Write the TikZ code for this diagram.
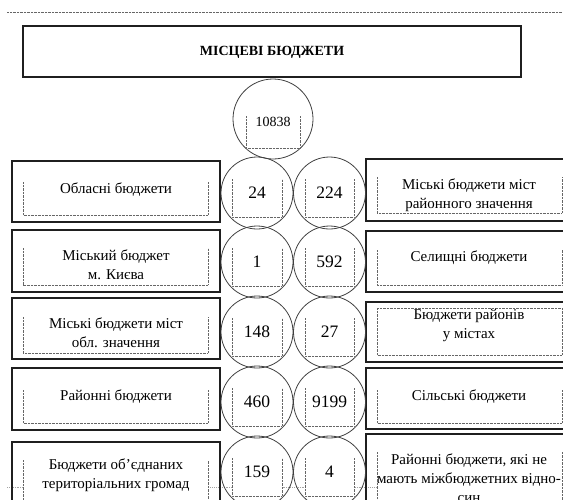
\documentclass[tikz,border=0pt]{standalone}
\usepackage{fontspec}
\setmainfont{Liberation Serif}
\usepackage{tikz}
\definecolor{ramka}{gray}{0.12}
\definecolor{kolo}{gray}{0.25}
\definecolor{punktyr}{gray}{0.40}
\tikzset{
  korobka/.style={draw=ramka, line width=1.1pt},
  krug/.style={circle, draw=kolo, line width=0.8pt, minimum size=72pt, inner sep=0pt},
  pole/.style={draw=punktyr, line width=0.7pt, dash pattern=on 0.7pt off 0.7pt, fill=white},
  napys/.style={align=center, inner sep=0pt, font=\fontsize{15}{19}\selectfont},
  chyslo/.style={inner sep=0pt, font=\fontsize{17.5}{20}\selectfont}
}

\begin{document}
\begin{tikzpicture}[x=1pt, y=-1pt]
        \useasboundingbox (0,0) rectangle (563,499);
        \clip (0,0) rectangle (563,499);
        \draw[punktyr, line width=0.6pt, dash pattern=on 0.7pt off 0.7pt] (7,12) -- (563,12);
        \draw[punktyr!60, line width=0.5pt, dash pattern=on 0.7pt off 1.2pt] (7,487) -- (563,487);
        % zagolovok
        \draw[korobka] (23,26) rectangle (521,77);
        \node[inner sep=0pt, font=\fontsize{14}{17}\selectfont\bfseries] (title) at (272,52) {МІСЦЕВІ БЮДЖЕТИ};
        \node[krug, minimum size=80pt] (vsogo) at (273,119) {};
        \draw[pole] (246,116) -- (246,148) -- (300,148) -- (300,116);
        \node[inner sep=0pt, font=\fontsize{14}{16}\selectfont] (n10838) at (273,122) {10838};
        % liva kolonka
        \draw[korobka] (12,161) rectangle (220,222);
        \draw[korobka] (12,230) rectangle (220,292);
        \draw[korobka] (12,298) rectangle (220,359);
        \draw[korobka] (12,368) rectangle (220,430);
        \draw[korobka] (12,442) rectangle (220,520);
        \draw[pole] (23,182) -- (23,215) -- (208,215) -- (208,182);
        \draw[pole] (23,248) -- (23,285) -- (208,285) -- (208,248);
        \draw[pole] (23,317) -- (23,353) -- (208,353) -- (208,317);
        \draw[pole] (23,390) -- (23,423) -- (208,423) -- (208,390);
        \draw[pole] (23,460) -- (23,520) -- (208,520) -- (208,460);
        \node[napys] (oblasni) at (116,190) {Обласні бюджети};
        \node[napys] (kyiv) at (116,265) {Міський бюджет\\м. Києва};
        \node[napys] (oblmista) at (116,333) {Міські бюджети міст\\обл. значення};
        \node[napys] (rajonni) at (116,397) {Районні бюджети};
        \node[napys] (otg) at (116,475) {Бюджети об’єднаних\\територіальних громад};
        % prava kolonka
        \draw[korobka] (366,159) rectangle (575,221);
        \draw[korobka] (366,231) rectangle (575,292);
        \draw[korobka] (366,302) rectangle (575,362);
        \draw[korobka] (366,368) rectangle (575,429);
        \draw[korobka] (366,434) rectangle (575,520);
        \draw[pole] (377,177) -- (377,213) -- (562,213) -- (562,177);
        \draw[pole] (377,250) -- (377,285) -- (562,285) -- (562,250);
        \draw[pole] (377,308) rectangle (562,355);
        \draw[pole] (377,390) -- (377,423) -- (562,423) -- (562,390);
        \draw[pole] (377,452) -- (377,520) -- (562,520) -- (562,452);
        \node[napys] (rajmista) at (469,195) {Міські бюджети міст\\районного значення};
        \node[napys] (selyshchni) at (469,258) {Селищні бюджети};
        \node[napys] (rajonyvmistah) at (469,325) {Бюджети районів\\у містах};
        \node[napys] (silski) at (469,397) {Сільські бюджети};
        \node[napys] (bezvidnosyn) at (469,478) {Районні бюджети, які не\\мають міжбюджетних відно-\\син};
        % kola z kilkistju
        \node[krug] (k24) at (257,193) {};
        \node[krug] (k224) at (329.5,193) {};
        \node[krug] (k1) at (257,262) {};
        \node[krug] (k592) at (329.5,262) {};
        \node[krug] (k148) at (257,332) {};
        \node[krug] (k27) at (329.5,332) {};
        \node[krug] (k460) at (257,402) {};
        \node[krug] (k9199) at (329.5,402) {};
        \node[krug] (k159) at (257,472) {};
        \node[krug] (k4) at (329.5,472) {};
        \draw[pole] (232,179) -- (232,217) -- (282,217) -- (282,179);
        \draw[pole] (305,179) -- (305,217) -- (354,217) -- (354,179);
        \draw[pole] (232,248) -- (232,286) -- (282,286) -- (282,248);
        \draw[pole] (305,248) -- (305,286) -- (354,286) -- (354,248);
        \draw[pole] (232,318) -- (232,356) -- (282,356) -- (282,318);
        \draw[pole] (305,318) -- (305,356) -- (354,356) -- (354,318);
        \draw[pole] (232,388) -- (232,426) -- (282,426) -- (282,388);
        \draw[pole] (305,388) -- (305,426) -- (354,426) -- (354,388);
        \draw[pole] (232,458) -- (232,496) -- (282,496) -- (282,458);
        \draw[pole] (305,458) -- (305,496) -- (354,496) -- (354,458);
        \node[chyslo] at (k24) {24};
        \node[chyslo] at (k224) {224};
        \node[chyslo] at (k1) {1};
        \node[chyslo] at (k592) {592};
        \node[chyslo] at (k148) {148};
        \node[chyslo] at (k27) {27};
        \node[chyslo] at (k460) {460};
        \node[chyslo] at (k9199) {9199};
        \node[chyslo] at (k159) {159};
        \node[chyslo] at (k4) {4};
\end{tikzpicture}
\end{document}
